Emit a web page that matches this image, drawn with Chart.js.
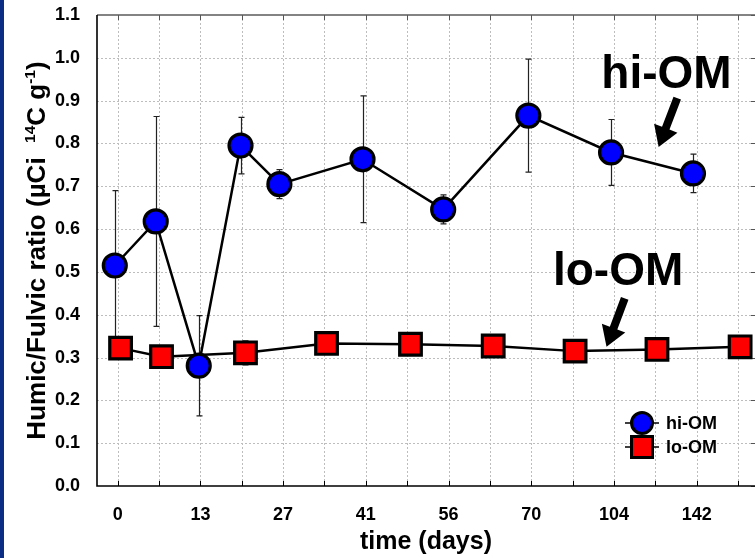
<!DOCTYPE html>
<html><head><meta charset="utf-8">
<script src="https://cdn.jsdelivr.net/npm/chart.js@4.4.0/dist/chart.umd.min.js"></script>
<style>
html,body{margin:0;padding:0;background:#fff;}
#wrap{position:relative;width:755px;height:558px;overflow:hidden;background:#fff;}
#strip{position:absolute;left:0;top:0;width:4px;height:558px;background:#0c2d84;}
canvas{position:absolute;left:0;top:0;}
</style></head><body>
<div id="wrap"><canvas id="c" width="755" height="558"></canvas><div id="strip"></div></div>
<script>
// ---- data ----
const xTickPos = [0, 2, 4, 6, 8, 10, 12, 14];
const xTickLabels = ['0', '13', '27', '41', '56', '70', '104', '142'];
const xGridPos = [0,1,2,3,4,5,6,7,8,9,10,11,12,13,14,15];
const yTickVals = [0, 0.1, 0.2, 0.3, 0.4, 0.5, 0.6, 0.7, 0.8, 0.9, 1.0, 1.1];

const hiX   = [-0.07, 0.92, 1.96, 2.97, 3.91, 5.92, 7.87, 9.93, 11.93, 13.91];
const hiY   = [0.515, 0.618, 0.281, 0.795, 0.705, 0.763, 0.646, 0.865, 0.779, 0.730];
const hiErr = [0.175, 0.245, 0.117, 0.066, 0.034, 0.148, 0.034, 0.132, 0.077, 0.045];

const loX   = [0.07, 1.06, 3.09, 5.05, 7.08, 9.08, 11.06, 13.04, 15.05];
const loY   = [0.322, 0.302, 0.311, 0.333, 0.331, 0.327, 0.315, 0.319, 0.325];
const loErr = [0.012, 0.010, 0.028, 0.010, 0.010, 0.010, 0.010, 0.010, 0.010];

const seriesNames = ['hi-OM', 'lo-OM'];

const FONT = '"Liberation Sans", Arial, Helvetica, sans-serif';

const deco = {
  id: 'deco',
  beforeDatasetsDraw(chart) {
    const {ctx, chartArea: a, scales: {x, y}} = chart;
    ctx.save();
    // dotted grid
    ctx.strokeStyle = '#bdbdbd';
    ctx.lineWidth = 1;
    ctx.setLineDash([2, 2]);
    xGridPos.forEach(v => {
      const px = Math.round(x.getPixelForValue(v)) + 0.5;
      ctx.beginPath(); ctx.moveTo(px, a.top); ctx.lineTo(px, a.bottom); ctx.stroke();
    });
    yTickVals.forEach(v => {
      if (v <= 0 || v >= 1.1) return;
      const py = Math.round(y.getPixelForValue(v)) + 0.5;
      ctx.beginPath(); ctx.moveTo(a.left, py); ctx.lineTo(a.right, py); ctx.stroke();
    });
    ctx.setLineDash([]);
    // inner tick marks
    ctx.lineWidth = 1;
    xGridPos.forEach(v => {
      const px = Math.round(x.getPixelForValue(v)) + 0.5;
      ctx.strokeStyle = '#000';
      ctx.beginPath(); ctx.moveTo(px, a.bottom); ctx.lineTo(px, a.bottom - 5); ctx.stroke();
      ctx.strokeStyle = '#555';
      ctx.beginPath(); ctx.moveTo(px, a.top); ctx.lineTo(px, a.top + 5); ctx.stroke();
    });
    ctx.strokeStyle = '#555';
    yTickVals.forEach(v => {
      const py = Math.round(y.getPixelForValue(v)) + 0.5;
      ctx.beginPath(); ctx.moveTo(a.right, py); ctx.lineTo(a.right - 4, py); ctx.stroke();
    });
    // frame
    ctx.strokeStyle = '#5a5a5a';
    ctx.lineWidth = 1.5;
    ctx.beginPath(); ctx.moveTo(a.left, a.top); ctx.lineTo(a.right, a.top); ctx.stroke();
    ctx.strokeStyle = '#000';
    ctx.lineWidth = 1.6;
    ctx.beginPath(); ctx.moveTo(a.left, a.top); ctx.lineTo(a.left, a.bottom); ctx.lineTo(a.right, a.bottom); ctx.stroke();
    // error bars
    const drawErr = (xs, ys, es) => {
      ctx.strokeStyle = '#222';
      ctx.lineWidth = 1.2;
      xs.forEach((xv, i) => {
        const px = Math.round(x.getPixelForValue(xv)) + 0.5;
        const t = y.getPixelForValue(ys[i] + es[i]);
        const b = y.getPixelForValue(ys[i] - es[i]);
        ctx.beginPath();
        ctx.moveTo(px, t); ctx.lineTo(px, b);
        ctx.moveTo(px - 3, t); ctx.lineTo(px + 3, t);
        ctx.moveTo(px - 3, b); ctx.lineTo(px + 3, b);
        ctx.stroke();
      });
    };
    drawErr(loX, loY, loErr);
    drawErr(hiX, hiY, hiErr);
    ctx.restore();
  },
  afterDatasetsDraw(chart) {
    const {ctx, chartArea: a, scales: {x, y}} = chart;
    ctx.save();
    // annotations
    const label = (txt, xv, yv) => {
      ctx.font = 'bold 46px ' + FONT;
      ctx.fillStyle = '#000';
      ctx.textAlign = 'center';
      ctx.textBaseline = 'alphabetic';
      ctx.fillText(txt, x.getPixelForValue(xv), y.getPixelForValue(yv));
    };
    const arrow = (x0, y0, x1, y1) => {
      const sx = x.getPixelForValue(x0), sy = y.getPixelForValue(y0);
      const ex = x.getPixelForValue(x1), ey = y.getPixelForValue(y1);
      const dx = ex - sx, dy = ey - sy, L = Math.hypot(dx, dy);
      const ux = dx / L, uy = dy / L, nx = -uy, ny = ux;
      const headL = 20, headW = 12.5, shaftW = 4;
      const bx = ex - ux * headL, by = ey - uy * headL;
      ctx.fillStyle = '#000';
      ctx.beginPath();
      ctx.moveTo(sx + nx * shaftW, sy + ny * shaftW);
      ctx.lineTo(bx + nx * shaftW, by + ny * shaftW);
      ctx.lineTo(bx + nx * headW, by + ny * headW);
      ctx.lineTo(ex, ey);
      ctx.lineTo(bx - nx * headW, by - ny * headW);
      ctx.lineTo(bx - nx * shaftW, by - ny * shaftW);
      ctx.lineTo(sx - nx * shaftW, sy - ny * shaftW);
      ctx.closePath();
      ctx.fill();
    };
    label(seriesNames[0], 13.27, 0.929);
    arrow(13.53, 0.906, 13.08, 0.792);
    label(seriesNames[1], 12.10, 0.469);
    arrow(12.26, 0.438, 11.82, 0.325);

    // legend
    const lx = a.right - 113;
    const rows = [a.bottom - 63, a.bottom - 39];
    rows.forEach((ry, i) => {
      ctx.strokeStyle = '#000';
      ctx.lineWidth = 1.5;
      ctx.beginPath(); ctx.moveTo(lx - 17, ry); ctx.lineTo(lx + 17, ry); ctx.stroke();
      ctx.lineWidth = 3;
      if (i === 0) {
        ctx.fillStyle = '#0000ff';
        ctx.beginPath(); ctx.arc(lx, ry, 10.5, 0, Math.PI * 2); ctx.fill(); ctx.stroke();
      } else {
        ctx.fillStyle = '#ff0000';
        ctx.beginPath(); ctx.rect(lx - 10.5, ry - 10.5, 21, 21); ctx.fill(); ctx.stroke();
      }
      ctx.font = 'bold 18px ' + FONT;
      ctx.fillStyle = '#000';
      ctx.textAlign = 'left';
      ctx.textBaseline = 'middle';
      ctx.fillText(seriesNames[i], lx + 24, ry + 1);
    });
    ctx.restore();
  },
  afterDraw(chart) {
    const {ctx, chartArea: a} = chart;
    ctx.save();
    const segs = [
      ['Humic/Fulvic ratio (\u00b5Ci  ', 26, 0],
      ['14', 15.5, -10],
      ['C g', 26, 0],
      ['-1', 15.5, -10],
      [')', 26, 0]
    ];
    let total = 0;
    segs.forEach(s => { ctx.font = 'bold ' + s[1] + 'px ' + FONT; s.w = ctx.measureText(s[0]).width; total += s.w; });
    ctx.translate(35, (a.top + a.bottom) / 2);
    ctx.rotate(-Math.PI / 2);
    ctx.fillStyle = '#000';
    ctx.textAlign = 'left';
    ctx.textBaseline = 'alphabetic';
    let cx = -total / 2;
    segs.forEach(s => {
      ctx.font = 'bold ' + s[1] + 'px ' + FONT;
      ctx.fillText(s[0], cx, 9.5 + s[2]);
      cx += s.w;
    });
    ctx.restore();
  }
};

new Chart(document.getElementById('c').getContext('2d'), {
  type: 'scatter',
  data: {
    datasets: [
      {
        label: seriesNames[0],
        data: hiX.map((v, i) => ({x: v, y: hiY[i]})),
        showLine: true,
        clip: false,
        borderColor: '#000',
        borderWidth: 2.5,
        pointStyle: 'circle',
        pointRadius: 11.5,
        pointHoverRadius: 11.5,
        pointBackgroundColor: '#0000ff',
        pointBorderColor: '#000',
        pointBorderWidth: 3.2
      },
      {
        label: seriesNames[1],
        data: loX.map((v, i) => ({x: v, y: loY[i]})),
        showLine: true,
        clip: false,
        borderColor: '#000',
        borderWidth: 2.5,
        pointStyle: 'rect',
        pointRadius: 15.3,
        pointHoverRadius: 15.3,
        pointBackgroundColor: '#ff0000',
        pointBorderColor: '#000',
        pointBorderWidth: 3.2
      }
    ]
  },
  options: {
    responsive: false,
    animation: false,
    events: [],
    layout: {autoPadding: false, padding: {top: 15, right: 0, left: 0, bottom: 0}},
    plugins: {legend: {display: false}, tooltip: {enabled: false}},
    scales: {
      x: {
        type: 'linear',
        min: -0.5,
        max: 15.41,
        afterBuildTicks: s => { s.ticks = xGridPos.map(v => ({value: v})); },
        afterFit: s => { s.height = 72; s.paddingLeft = 0; s.paddingRight = 0; s.paddingTop = 0; s.paddingBottom = 0; },
        grid: {display: false},
        border: {display: false},
        ticks: {
          padding: 10,
          color: '#000',
          autoSkip: false,
          maxRotation: 0,
          font: {family: FONT, size: 18, weight: 'bold'},
          callback: v => { const k = xTickPos.indexOf(v); return k >= 0 ? xTickLabels[k] : ''; }
        },
        title: {
          display: true,
          text: 'time (days)',
          color: '#000',
          font: {family: FONT, size: 25, weight: 'bold', lineHeight: 1.2},
          padding: {top: 0, bottom: 1}
        }
      },
      y: {
        min: 0,
        max: 1.1,
        afterBuildTicks: s => { s.ticks = yTickVals.map(v => ({value: v})); },
        afterFit: s => { s.width = 97; s.paddingLeft = 0; s.paddingRight = 0; s.paddingTop = 0; s.paddingBottom = 0; },
        grid: {display: false},
        border: {display: false},
        ticks: {
          padding: 9,
          color: '#000',
          font: {family: FONT, size: 18, weight: 'bold'},
          callback: v => Number(v).toFixed(1)
        }
      }
    }
  },
  plugins: [deco]
});
</script>
</body></html>
